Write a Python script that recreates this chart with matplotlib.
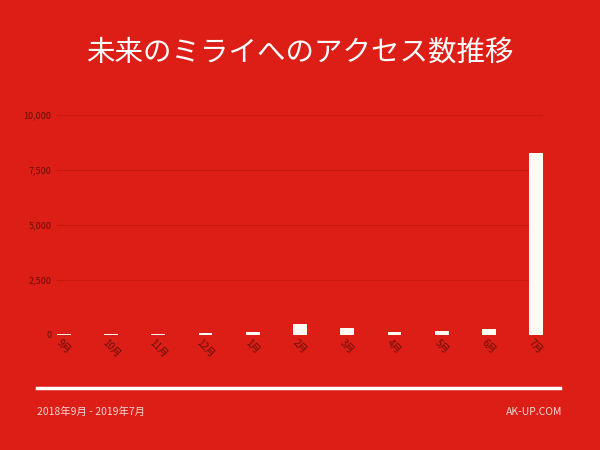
import matplotlib
matplotlib.use("Agg")
import matplotlib.pyplot as plt
from matplotlib.ticker import FuncFormatter
from matplotlib.lines import Line2D

plt.rcParams['font.family'] = ['Noto Sans CJK JP', 'DejaVu Sans']

title = "未来のミライへのアクセス数推移"
months = ["9月", "10月", "11月", "12月", "1月", "2月", "3月", "4月", "5月", "6月", "7月"]
visits = [50, 45, 35, 100, 150, 500, 330, 120, 180, 290, 8270]
yticks = [0, 2500, 5000, 7500, 10000]
footer_left = "2018年9月 - 2019年7月"
footer_right = "AK-UP.COM"

bg = "#DC1E16"
grid_c = "#C8170F"
tick_c = "#661008"
bar_c = "#FFFDF4"

fig = plt.figure(figsize=(6, 4.5), dpi=100, facecolor=bg)
ax = fig.add_axes([0.095, 0.2556, 0.81, 0.4888], facecolor=bg)

x = list(range(len(months)))
ax.bar(x, visits, width=0.29, color=bar_c, zorder=3)
ax.set_xlim(-0.145, len(months) - 1 + 0.145)
ax.set_ylim(0, 10000)
ax.set_yticks(yticks)
ax.yaxis.set_major_formatter(FuncFormatter(lambda v, p: f"{int(v):,}"))
ax.set_xticks(x)
ax.set_xticklabels(months, rotation=-45, ha='center', va='top', fontsize=7)
ax.tick_params(axis='both', length=0, colors=tick_c)
ax.tick_params(axis='y', pad=4, labelsize=6.5)
ax.tick_params(axis='x', pad=2)
ax.grid(axis='y', color=grid_c, linewidth=0.8, zorder=0)
for s in ax.spines.values():
    s.set_visible(False)

fig.text(0.5, 0.884, title, color="white", fontsize=20.5, ha='center', va='center')
fig.add_artist(Line2D([0.062, 0.933], [0.138, 0.138], transform=fig.transFigure,
                      color="white", linewidth=2.5))
fig.text(0.062, 0.084, footer_left, color="#F6D5D2", fontsize=7.5, ha='left', va='center')
fig.text(0.938, 0.084, footer_right, color="#F6D5D2", fontsize=7.5, ha='right', va='center')

fig.savefig("out.png", dpi=100, facecolor=bg)
